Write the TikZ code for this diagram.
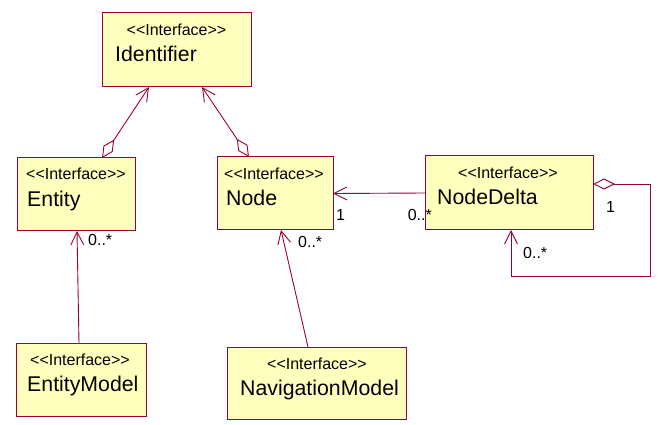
\documentclass[tikz,border=0pt]{standalone}
\usepackage{fontspec}
\setmainfont{Liberation Sans}
\usetikzlibrary{arrows.meta}
\definecolor{umlred}{RGB}{153,0,51}
\definecolor{umlfill}{RGB}{255,255,190}
\begin{document}
\begin{tikzpicture}[x=1pt,y=-1pt,
  box/.style={draw=umlred, fill=umlfill, line width=1pt, inner sep=0pt, outer sep=0pt, anchor=north west},
  stereo/.style={font=\fontsize{16}{18}\selectfont, inner sep=0pt, anchor=base},
  cname/.style={font=\fontsize{21.3}{24}\selectfont, inner sep=0pt, anchor=base west},
  mult/.style={font=\fontsize{16}{18}\selectfont, inner sep=0pt, anchor=west},
  assoc/.style={draw=umlred, line width=0.9pt, -{Straight Barb[length=13pt,width=13pt]}},
  agg/.style={draw=umlred, line width=0.9pt, {Diamond[open,length=22pt,width=11pt,fill=white]}-{Straight Barb[length=13pt,width=13pt]}}
]
\fill[white] (0,0) rectangle (665,425);
\useasboundingbox (0,0) rectangle (665,425);

% boxes
\node[box, minimum width=149pt, minimum height=74pt] (identifier) at (102,13) {};
\node[box, minimum width=118pt, minimum height=73pt] (entity) at (17,158) {};
\node[box, minimum width=116pt, minimum height=73pt] (node) at (217,157) {};
\node[box, minimum width=168pt, minimum height=74pt] (nodedelta) at (425,156) {};
\node[box, minimum width=130pt, minimum height=73pt] (entitymodel) at (16,343) {};
\node[box, minimum width=179pt, minimum height=72pt] (navmodel) at (227,347) {};

% texts
\node[stereo] (s1) at (176.5,35.5) {<{}<Interface>{}>};
\node[cname] (n1) at (115,61.5) {Identifier};
\node[stereo] (s2) at (76,180) {<{}<Interface>{}>};
\node[cname] (n2) at (27,206.5) {Entity};
\node[stereo] (s3) at (274,179.5) {<{}<Interface>{}>};
\node[cname] (n3) at (226,205.5) {Node};
\node[stereo] (s4) at (508,178.5) {<{}<Interface>{}>};
\node[cname] (n4) at (437,204.5) {NodeDelta};
\node[stereo] (s5) at (80,365.5) {<{}<Interface>{}>};
\node[cname] (n5) at (27,391.5) {EntityModel};
\node[stereo] (s6) at (317,369.5) {<{}<Interface>{}>};
\node[cname] (n6) at (240,395.5) {NavigationModel};

% connectors
\draw[agg] ([xshift=26pt]entity.north) -- ([xshift=-27.5pt]identifier.south);
\draw[agg] ([xshift=-26pt]node.north) -- ([xshift=25.5pt]identifier.south);
\draw[assoc] (nodedelta.west) -- (node.east);
\draw[assoc] ([xshift=-2pt]entitymodel.north) -- ([xshift=1pt]entity.south);
\draw[assoc] ([xshift=-8.5pt]navmodel.north) -- ([xshift=6pt]node.south);
\coordinate (loopa) at (650,184);
\coordinate (loopb) at (650,276);
\coordinate (loopc) at (511,276);
\draw[agg] ([yshift=9pt]nodedelta.east) -- (loopa) -- (loopb) -- (loopc) -- ([xshift=2pt]nodedelta.south);

% multiplicities
\node[mult] (m1) at (336,215) {1};
\node[mult, anchor=east] (m2) at (432,215) {0..*};
\node[mult] (m3) at (88,240) {0..*};
\node[mult] (m4) at (298,242) {0..*};
\node[mult] (m5) at (606,207) {1};
\node[mult] (m6) at (523,253) {0..*};
\end{tikzpicture}
\end{document}
